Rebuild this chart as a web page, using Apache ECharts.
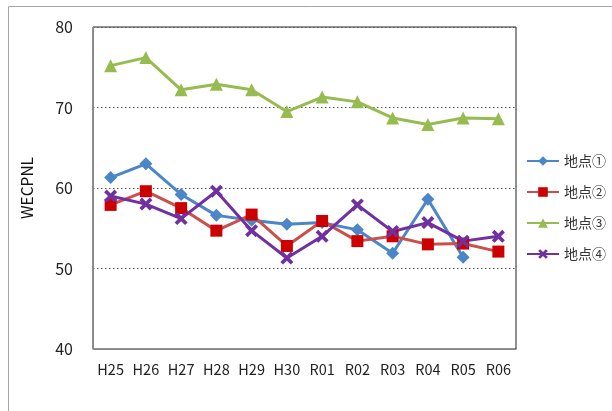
<!DOCTYPE html>
<html>
<head>
<meta charset="utf-8">
<script src="https://cdn.jsdelivr.net/npm/echarts@6/dist/echarts.min.js"></script>
<style>
html,body{margin:0;padding:0;background:#fff;}
#c{width:612px;height:411px;}
</style>
</head>
<body>
<div id="c"></div>
<script>
const categories = ['H25','H26','H27','H28','H29','H30','R01','R02','R03','R04','R05','R06'];
const seriesNames = ['地点①','地点②','地点③','地点④'];
const site1 = [61.3, 63.0, 59.2, 56.6, 56.0, 55.5, 55.7, 54.8, 51.9, 58.6, 51.4, null];
const site2 = [57.9, 59.6, 57.5, 54.7, 56.7, 52.8, 55.9, 53.4, 54.0, 53.0, 53.1, 52.1];
const site3 = [75.2, 76.2, 72.2, 72.9, 72.2, 69.5, 71.3, 70.7, 68.7, 67.9, 68.7, 68.6];
const site4 = [59.0, 58.0, 56.2, 59.6, 54.7, 51.3, 54.0, 57.9, 54.6, 55.7, 53.4, 54.0];
const yTicks = [40, 50, 60, 70, 80];

const xPath = 'path://M0,2L2,0L5,3L8,0L10,2L7,5L10,8L8,10L5,7L2,10L0,8L3,5Z';
const font = '"Noto Sans CJK JP", "Noto Sans", sans-serif';

const chart = echarts.init(document.getElementById('c'));
chart.setOption({
  animation: false,
  backgroundColor: '#fff',
  textStyle: { fontFamily: font },
  graphic: [{
    type: 'rect', left: 6, top: 4, z: -10,
    shape: { width: 612, height: 405 },
    style: { fill: 'none', stroke: '#a6a6a6', lineWidth: 1 }
  }],
  grid: { left: 93, right: 96, top: 27, bottom: 62, show: true, borderColor: '#222', borderWidth: 1, backgroundColor: 'transparent' },
  legend: {
    orient: 'vertical', left: 521, top: 149, itemWidth: 32, itemHeight: 12, itemGap: 17,
    textStyle: { fontSize: 14, color: '#333', fontFamily: font },
    data: seriesNames
  },
  xAxis: {
    type: 'category', data: categories, boundaryGap: true,
    axisLine: { lineStyle: { color: '#868686', width: 1 } },
    axisTick: { inside: true, length: 4, lineStyle: { color: '#868686' } },
    axisLabel: { fontSize: 14.5, color: '#222', margin: 13, fontFamily: font }
  },
  yAxis: {
    type: 'value', min: 40, max: 80, interval: 10,
    name: 'WECPNL', nameLocation: 'middle', nameGap: 58, nameRotate: 90,
    nameTextStyle: { fontSize: 15.5, color: '#111', fontFamily: font },
    axisLine: { show: true, lineStyle: { color: '#868686', width: 1 } },
    axisTick: { show: false },
    axisLabel: { fontSize: 16, color: '#222', margin: 20, fontFamily: font,
      formatter: v => yTicks.includes(v) ? String(v) : '' },
    splitLine: { show: true, lineStyle: { color: '#555', type: [1.5, 2.5], width: 1 } }
  },
  series: [
    { name: seriesNames[0], type: 'line', data: site1, symbol: 'diamond', symbolSize: 13,
      lineStyle: { color: '#4a86c8', width: 3 }, itemStyle: { color: '#4a86c8' } },
    { name: seriesNames[1], type: 'line', data: site2, symbol: 'rect', symbolSize: 12,
      lineStyle: { color: '#c9504d', width: 3 }, itemStyle: { color: '#cc0000' } },
    { name: seriesNames[2], type: 'line', data: site3, symbol: 'triangle', symbolSize: 13,
      lineStyle: { color: '#96bc4f', width: 3 }, itemStyle: { color: '#96bc4f' } },
    { name: seriesNames[3], type: 'line', data: site4, symbol: xPath, symbolSize: 13,
      lineStyle: { color: '#7030a0', width: 3 }, itemStyle: { color: '#7030a0' } }
  ]
});
</script>
</body>
</html>
